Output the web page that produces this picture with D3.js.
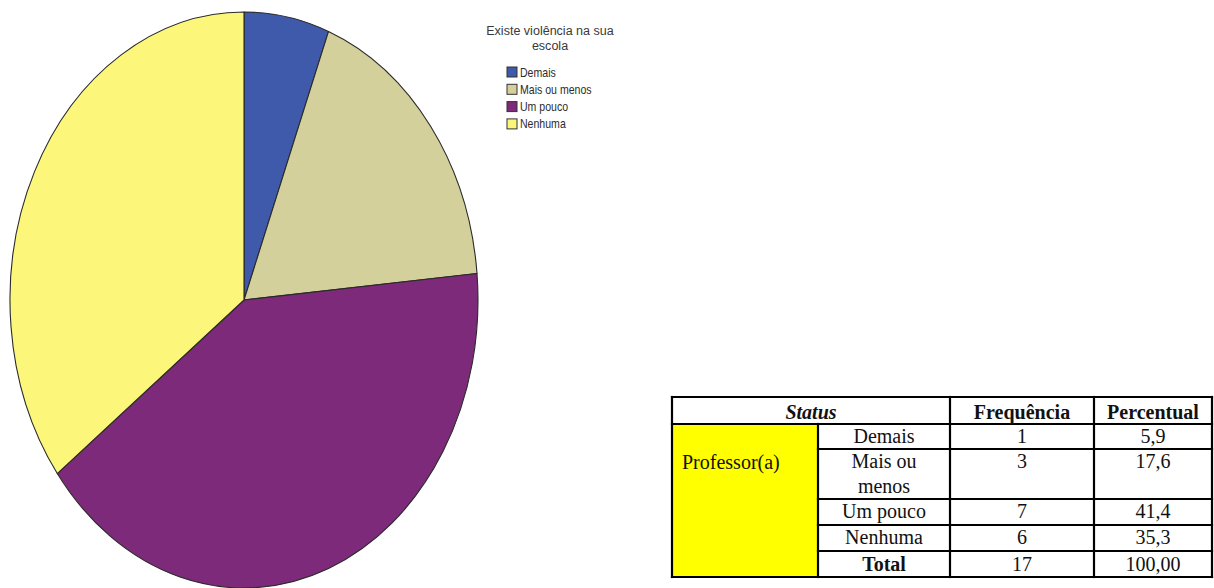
<!DOCTYPE html>
<html>
<head>
<meta charset="utf-8">
<script src="https://cdn.jsdelivr.net/npm/d3@7"></script>
<style>
  html, body { margin: 0; padding: 0; background: #fff; }
  svg { display: block; }
</style>
</head>
<body>
<svg id="chart" width="1214" height="588"></svg>
<script>
// Answers to "Existe violência na sua escola" (teachers)
const categories  = ["Demais", "Mais ou menos", "Um pouco", "Nenhuma"];
const frequencies = [1, 3, 7, 6];
const percentages = ["5,9", "17,6", "41,4", "35,3"];
const sliceColors = ["#3f5aaa", "#d4d09c", "#7d2a7b", "#fcf77a"];
const legendTitle = ["Existe violência na sua", "escola"];

// Table texts
const tableHeader = ["Status", "Frequência", "Percentual"];
const statusGroup = "Professor(a)";
const totalLabel  = "Total";
const totalFreq   = 17;
const totalPct    = "100,00";

const svg = d3.select("#chart");

// ---------- Pie (elliptical) ----------
const cx = 244, cy = 300, rx = 234, ry = 288;
const pie = d3.pie().sort(null).value(d => d.value);
const arcs = pie(categories.map((c, i) => ({ name: c, value: frequencies[i], color: sliceColors[i] })));
const arc = d3.arc().innerRadius(0).outerRadius(rx);

const pieG = svg.append("g")
  .attr("transform", `translate(${cx},${cy}) scale(1,${ry / rx})`);
pieG.selectAll("path")
  .data(arcs)
  .join("path")
  .attr("d", arc)
  .attr("fill", d => d.data.color)
  .attr("stroke", "#2a2a2a")
  .attr("stroke-width", 1.1)
  .attr("vector-effect", "non-scaling-stroke")
  .attr("stroke-linejoin", "round");

// ---------- Legend ----------
const legend = svg.append("g").attr("font-family", "'Liberation Sans', Arial, sans-serif").attr("fill", "#333");
legend.selectAll("text.title")
  .data(legendTitle)
  .join("text")
  .attr("class", "title")
  .attr("x", 550)
  .attr("y", (d, i) => 35 + i * 15)
  .attr("text-anchor", "middle")
  .attr("font-size", 13.5)
  .attr("fill", "#3a3a3a")
  .attr("transform", "translate(550,0) scale(0.93,1) translate(-550,0)")
  .text(d => d);

const items = legend.selectAll("g.item")
  .data(categories)
  .join("g")
  .attr("class", "item")
  .attr("transform", (d, i) => `translate(507,${67 + i * 17.3})`);
items.append("rect")
  .attr("width", 10).attr("height", 10)
  .attr("fill", (d, i) => sliceColors[i])
  .attr("stroke", "#333").attr("stroke-width", 1);
items.append("text")
  .attr("x", 13).attr("y", 9.5)
  .attr("font-size", 12)
  .attr("fill", "#2c2c2c")
  .attr("transform", "scale(0.88,1)")
  .attr("x", 13 / 0.88)
  .text(d => d);

// ---------- Table ----------
const colX = [672, 818, 950, 1094, 1212];
const rowY = [397, 424, 449, 499, 525, 551, 577];
const serif = "'Liberation Serif', 'Times New Roman', serif";
const tbl = svg.append("g").attr("font-family", serif).attr("font-size", 20).attr("fill", "#111");

// yellow status cell
tbl.append("rect")
  .attr("x", colX[0]).attr("y", rowY[1])
  .attr("width", colX[1] - colX[0]).attr("height", rowY[6] - rowY[1])
  .attr("fill", "#ffff00");

const lines = [];
// outer frame
lines.push([colX[0], rowY[0], colX[4], rowY[0]]);
lines.push([colX[0], rowY[6], colX[4], rowY[6]]);
lines.push([colX[0], rowY[0], colX[0], rowY[6]]);
lines.push([colX[4], rowY[0], colX[4], rowY[6]]);
// header bottom
lines.push([colX[0], rowY[1], colX[4], rowY[1]]);
// row separators right of the status cell
for (let r = 2; r <= 5; r++) lines.push([colX[1], rowY[r], colX[4], rowY[r]]);
// column separators
lines.push([colX[1], rowY[1], colX[1], rowY[6]]);
lines.push([colX[2], rowY[0], colX[2], rowY[6]]);
lines.push([colX[3], rowY[0], colX[3], rowY[6]]);

tbl.selectAll("line")
  .data(lines)
  .join("line")
  .attr("x1", d => d[0]).attr("y1", d => d[1])
  .attr("x2", d => d[2]).attr("y2", d => d[3])
  .attr("stroke", "#000").attr("stroke-width", 2.2)
  .attr("stroke-linecap", "square");

// header
tbl.append("text").attr("x", (colX[0] + colX[2]) / 2).attr("y", rowY[0] + 22)
  .attr("text-anchor", "middle").attr("font-weight", "bold").attr("font-style", "italic")
  .text(tableHeader[0]);
tbl.append("text").attr("x", (colX[2] + colX[3]) / 2).attr("y", rowY[0] + 22)
  .attr("text-anchor", "middle").attr("font-weight", "bold").text(tableHeader[1]);
tbl.append("text").attr("x", (colX[3] + colX[4]) / 2).attr("y", rowY[0] + 22)
  .attr("text-anchor", "middle").attr("font-weight", "bold").text(tableHeader[2]);

// status group label
tbl.append("text").attr("x", colX[0] + 10).attr("y", rowY[2] + 20).text(statusGroup);

// category rows with word wrap in the narrow column
const maxLabelWidth = colX[2] - colX[1] - 24;
categories.forEach((c, i) => {
  const top = rowY[i + 1];
  const t = tbl.append("text")
    .attr("x", (colX[1] + colX[2]) / 2).attr("y", top + 19)
    .attr("text-anchor", "middle");
  const words = c.split(" ");
  let line = [], lineNo = 0;
  let tspan = t.append("tspan").attr("x", (colX[1] + colX[2]) / 2).attr("dy", 0);
  words.forEach(w => {
    line.push(w);
    tspan.text(line.join(" "));
    if (tspan.node().getComputedTextLength() > maxLabelWidth && line.length > 1) {
      line.pop();
      tspan.text(line.join(" "));
      line = [w];
      lineNo++;
      tspan = t.append("tspan").attr("x", (colX[1] + colX[2]) / 2).attr("dy", 25).text(w);
    }
  });
  tbl.append("text").attr("x", (colX[2] + colX[3]) / 2).attr("y", top + 19)
    .attr("text-anchor", "middle").text(frequencies[i]);
  tbl.append("text").attr("x", (colX[3] + colX[4]) / 2).attr("y", top + 19)
    .attr("text-anchor", "middle").text(percentages[i]);
});

// total row
tbl.append("text").attr("x", (colX[1] + colX[2]) / 2).attr("y", rowY[5] + 20)
  .attr("text-anchor", "middle").attr("font-weight", "bold").text(totalLabel);
tbl.append("text").attr("x", (colX[2] + colX[3]) / 2).attr("y", rowY[5] + 20)
  .attr("text-anchor", "middle").text(totalFreq);
tbl.append("text").attr("x", (colX[3] + colX[4]) / 2).attr("y", rowY[5] + 20)
  .attr("text-anchor", "middle").text(totalPct);
</script>
</body>
</html>
